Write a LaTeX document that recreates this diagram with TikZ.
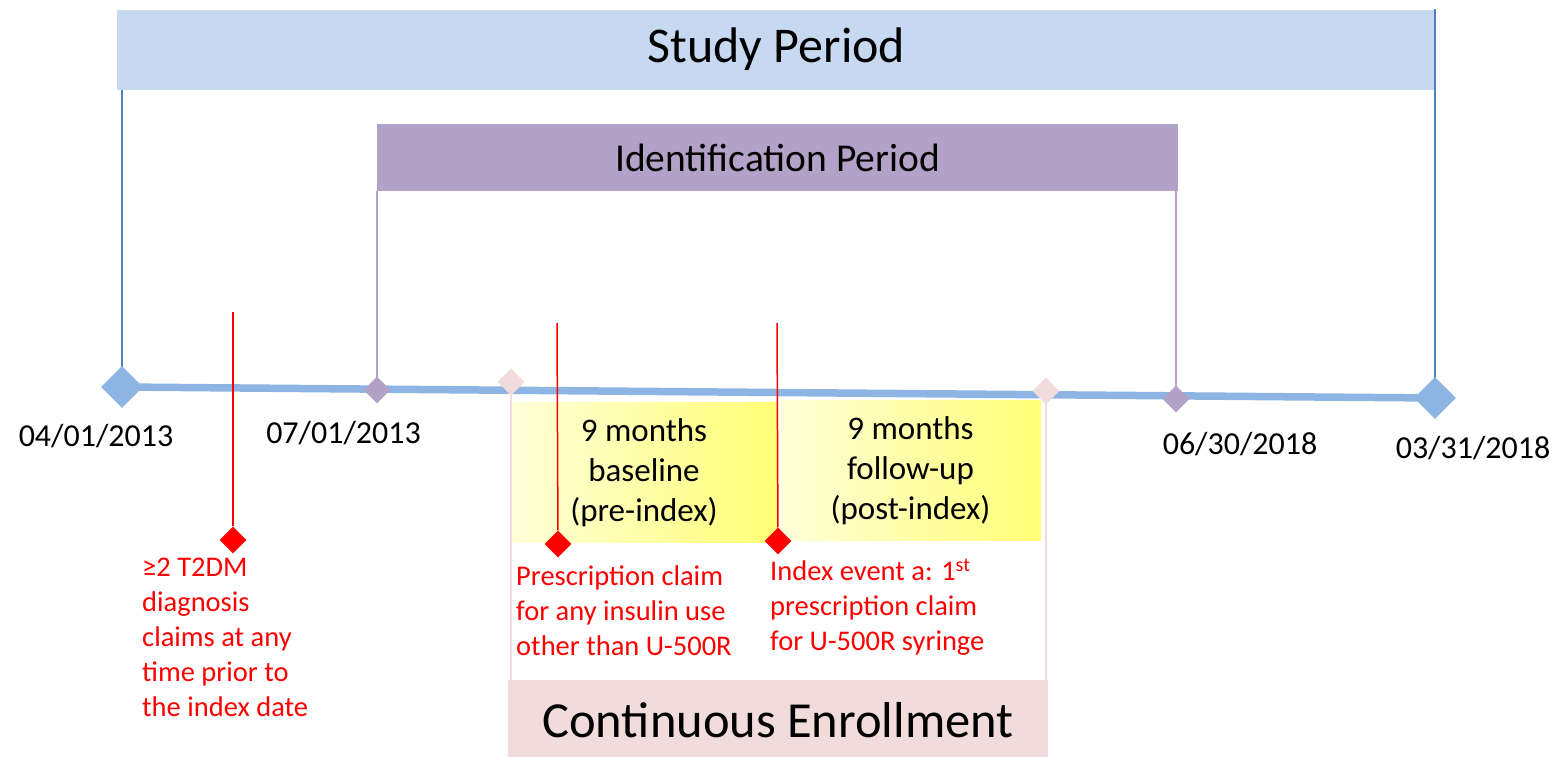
\documentclass[tikz,border=0pt]{standalone}
\usepackage{fontspec}
\setmainfont{Carlito}
\usetikzlibrary{shapes.geometric}
\begin{document}
\begin{tikzpicture}[x=1pt,y=-1pt,
  periodbar/.style={rectangle,inner sep=0pt,text=black},
  monthbox/.style={rectangle,inner sep=0pt,left color=paleyellow,right color=deepyellow,
    minimum height=140,align=center,font=\fontsize{33}{40}\selectfont},
  bigdia/.style={diamond,inner sep=0pt,minimum size=42,fill=timeline},
  smalldia/.style={diamond,inner sep=0pt,minimum size=27},
  eventdia/.style={diamond,inner sep=0pt,minimum size=27,fill=red},
  datelabel/.style={anchor=base,inner sep=0pt,font=\fontsize{32}{38}\selectfont},
  redlabel/.style={anchor=north west,inner sep=0pt,align=left,text=red,
    font=\fontsize{28.5}{35}\selectfont},
  redline/.style={red,line width=1.5pt}]
\definecolor{studyfill}{RGB}{198,217,240}
\definecolor{studyline}{RGB}{79,129,189}
\definecolor{timeline}{RGB}{142,180,227}
\definecolor{identfill}{RGB}{179,162,199}
\definecolor{enrollfill}{RGB}{242,220,219}
\definecolor{paleyellow}{RGB}{255,255,218}
\definecolor{deepyellow}{RGB}{255,255,118}
\useasboundingbox (0,0) rectangle (1560,756);
\coordinate[] (T1) at (122,387);
\coordinate[] (T2) at (377,390);
\coordinate[] (T3) at (511,382);
\coordinate[] (T4) at (1046,391);
\coordinate[] (T5) at (1176,399);
\coordinate[] (T6) at (1435,398);
\coordinate[] (R1) at (233,312);
\coordinate[] (R2) at (557,323);
\coordinate[] (R3) at (777,323);
% period bars
\node[periodbar,fill=studyfill,minimum width=1319,minimum height=80,
  font=\fontsize{50}{60}\selectfont] (study) at (776.5,49.5) {Study Period};
\node[periodbar,fill=identfill,minimum width=801,minimum height=67,
  font=\fontsize{39.5}{46}\selectfont] (ident) at (777.5,157.5) {Identification Period};
\node[periodbar,fill=enrollfill,minimum width=540,minimum height=80,
  font=\fontsize{50.5}{58}\selectfont] (enroll) at (778,720) {Continuous Enrollment};
% baseline and follow-up windows
\node[monthbox,minimum width=266] (base) at (644,472.5) {9 months\\baseline\\(pre-index)};
\node[monthbox,minimum width=261] (follow) at (910.5,470.5) {9 months\\follow-up\\(post-index)};
% time axis
\draw[line width=7.5pt,color=timeline] (T1) -- (T6);
\draw[studyline,line width=1.5pt] (study.south -| T1) -- (T1);
\draw[studyline,line width=2pt] (study.north -| T6) -- (T6);
\draw[identfill,line width=1.5pt] (ident.south -| T2) -- (T2);
\draw[identfill,line width=1.5pt] (ident.south -| T5) -- (T5);
\draw[enrollfill,line width=2pt] (T3) -- (enroll.north -| T3);
\draw[enrollfill,line width=2pt] (T4) -- (enroll.north -| T4);
\node[bigdia] (d1) at (T1) {};
\node[smalldia,fill=identfill] (d2) at (T2) {};
\node[smalldia,fill=enrollfill] (d3) at (T3) {};
\node[smalldia,fill=enrollfill] (d4) at (T4) {};
\node[smalldia,fill=identfill] (d5) at (T5) {};
\node[bigdia] (d6) at (T6) {};
% events
\node[eventdia] (e1) at (233,540) {};
\node[eventdia] (e2) at (558,544) {};
\node[eventdia] (e3) at (778,541) {};
\draw[redline] (R1) -- (e1);
\draw[redline] (R2) -- (e2);
\draw[redline] (R3) -- (e3);
% dates
\node[datelabel] (l1) at (96,446) {04/01/2013};
\node[datelabel] (l2) at (343.5,443) {07/01/2013};
\node[datelabel] (l5) at (1240,454) {06/30/2018};
\node[datelabel] (l6) at (1473,458) {03/31/2018};
% event notes
\node[redlabel] (n1) at (142,558) {≥2 T2DM\\diagnosis\\claims at any\\time prior to\\the index date};
\node[redlabel] (n2) at (516,565) {Prescription claim\\for any insulin use\\other than U-500R};
\node[redlabel] (n3) at (770,559) {Index event a: 1\textsuperscript{st}\\prescription claim\\for U-500R syringe};
\end{tikzpicture}
\end{document}
